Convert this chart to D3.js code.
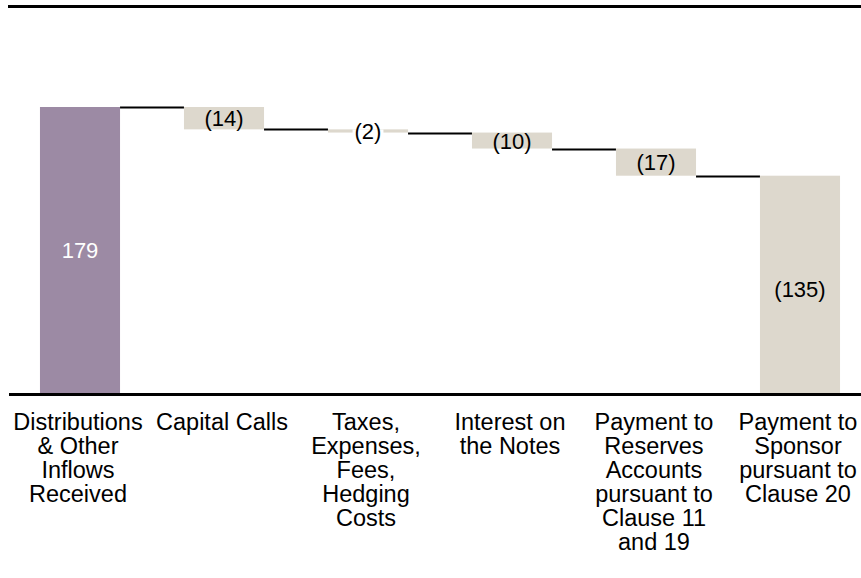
<!DOCTYPE html>
<html>
<head>
<meta charset="utf-8">
<script src="https://cdn.jsdelivr.net/npm/d3@7"></script>
<style>
  html, body { margin: 0; padding: 0; background: #fff; }
  svg { display: block; }
  text { font-family: "Liberation Sans", Arial, sans-serif; }
</style>
</head>
<body>
<svg id="chart" width="861" height="578"></svg>
<script>
// ---- data ----
const categories = [
  ["Distributions", "& Other", "Inflows", "Received"],
  ["Capital Calls"],
  ["Taxes,", "Expenses,", "Fees,", "Hedging", "Costs"],
  ["Interest on", "the Notes"],
  ["Payment to", "Reserves", "Accounts", "pursuant to", "Clause 11", "and 19"],
  ["Payment to", "Sponsor", "pursuant to", "Clause 20"]
];
const values = [179, -14, -2, -10, -17, 135];
const kinds = ["start", "step", "step", "step", "step", "end"];
const valueLabels = ["179", "(14)", "(2)", "(10)", "(17)", "(135)"];

// ---- layout ----
const W = 861, H = 578;
const svg = d3.select("#chart");
const baseY = 393;
const topY = 107;

const x = d3.scaleBand()
  .domain(d3.range(categories.length))
  .range([8, 8 + 6 * 144])
  .paddingInner(0.444)
  .paddingOuter(0.222);

const y = d3.scaleLinear().domain([0, 179]).range([baseY, topY]);

// compute waterfall geometry (closing bar ends at the running total)
let running = 0;
const bars = values.map((v, i) => {
  let y0, y1;
  if (kinds[i] === "start") { y0 = 0; y1 = v; running = v; }
  else if (kinds[i] === "end") { y0 = 0; y1 = running; }
  else { y0 = running + v; y1 = running; running = running + v; }
  return { i, y0, y1, level: running, kind: kinds[i], label: valueLabels[i] };
});

const purple = "#9c8aa4";
const beige = "#ddd8cd";

// top rule
svg.append("rect").attr("x", 8).attr("y", 5).attr("width", W - 8).attr("height", 3).attr("fill", "#000");

// connectors
for (let k = 0; k < bars.length - 1; k++) {
  const lvl = bars[k].level;
  svg.append("line")
    .attr("x1", x(k) + x.bandwidth())
    .attr("x2", x(k + 1))
    .attr("y1", Math.round(y(lvl)) + 0.5)
    .attr("y2", Math.round(y(lvl)) + 0.5)
    .attr("stroke", "#000")
    .attr("stroke-width", 2);
}

// bars
svg.selectAll("rect.bar").data(bars).enter().append("rect")
  .attr("class", "bar")
  .attr("x", d => x(d.i))
  .attr("width", x.bandwidth())
  .attr("y", d => y(d.y1))
  .attr("height", d => y(d.y0) - y(d.y1))
  .attr("fill", d => d.kind === "start" ? purple : beige);

// value labels
const lblG = svg.append("g");
bars.forEach(d => {
  const cx = x(d.i) + x.bandwidth() / 2;
  let cy = (y(d.y0) + y(d.y1)) / 2;
  if (d.kind === "end") cy += 5;
  const t = lblG.append("text")
    .attr("x", cx)
    .attr("y", cy + 8)
    .attr("text-anchor", "middle")
    .attr("font-size", 22)
    .attr("fill", d.kind === "start" ? "#fff" : "#000")
    .text(d.label);
  const h = y(d.y0) - y(d.y1);
  if (h < 10) {
    const bb = t.node().getBBox();
    lblG.insert("rect", "text")
      .attr("x", bb.x - 2).attr("y", cy - 1.5)
      .attr("width", bb.width + 4).attr("height", h + 3)
      .attr("fill", "#fff");
  }
});

// axis line
svg.append("rect").attr("x", 9).attr("y", baseY).attr("width", W - 9).attr("height", 3).attr("fill", "#000");

// category labels
categories.forEach((lines, i) => {
  const cx = x(i) + x.bandwidth() / 2 - 2;
  const t = svg.append("text")
    .attr("x", cx)
    .attr("y", 430)
    .attr("text-anchor", "middle")
    .attr("font-size", 23.5)
    .attr("fill", "#000");
  lines.forEach((ln, j) => {
    t.append("tspan").attr("x", cx).attr("y", 430 + j * 24).text(ln);
  });
});
</script>
</body>
</html>
